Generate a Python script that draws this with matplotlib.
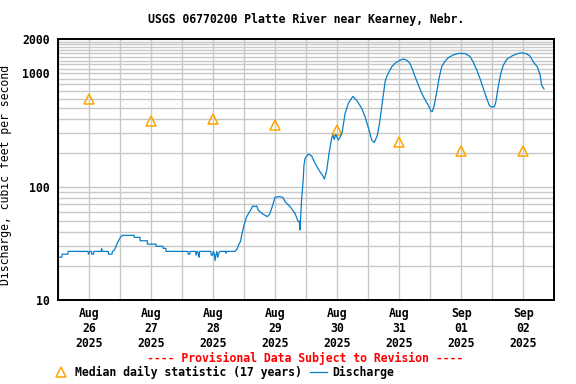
import matplotlib
matplotlib.use('Agg')
import matplotlib.pyplot as plt
import matplotlib.dates as mdates
from matplotlib.ticker import FixedLocator, FixedFormatter, NullFormatter
import pandas as pd

# discharge, hours after 2025-08-26 00:00 and cubic feet per second
hours = [0, 1.4, 1.5, 3.7, 3.8, 11.5, 11.7, 12.2, 12.9, 13.0, 13.6, 13.8, 16.6, 16.8, 17.0,
         19.3, 19.5, 20.8, 20.9, 21.7, 22.3, 22.8, 23.5, 24.2, 24.9, 29.3, 29.4, 31.6, 31.7,
         34.4, 34.5, 37.8, 37.9, 40.5, 40.6, 41.6, 41.7,
         50.2, 50.3, 50.9, 51.0, 53.2, 53.3, 53.8, 54.2, 54.5, 54.7, 59.0, 59.2, 59.7, 60.0,
         60.4, 60.7, 61.0, 61.4, 61.7, 62.0, 62.5, 64.8, 64.9, 65.1, 68.4, 69.3, 69.7, 70.5,
         71.0, 71.9, 72.9, 74.6, 75.3, 76.0, 76.8, 77.4, 78.7, 80.9, 81.7, 82.6, 83.9, 85.5,
         86.9, 87.8, 89.7, 91.6, 92.9, 93.3, 93.5, 93.7, 94.2, 94.8, 95.1, 95.5, 96.8, 98.1,
         99.4, 101.3, 102.6, 103.0, 103.9, 104.8, 105.8, 106.3, 106.8, 107.4, 108.4, 109.1,
         109.9, 111.0, 112.3, 114.0, 115.5, 117.4, 118.7, 120.3, 121.3, 122.3, 123.5, 124.3,
         125.2, 125.8, 126.5, 127.1, 128.4, 129.1, 130.3, 132.3, 133.6, 134.9, 136.1, 137.2,
         138.1, 139.4, 140.7, 142.0, 143.2, 144.2, 144.7, 145.4, 146.5, 147.4, 148.4, 149.7,
         151.0, 152.9, 154.8, 157.4, 159.4, 160.6, 162.0, 163.2, 164.5, 165.8, 166.8, 167.5,
         168.8, 169.4, 170.3, 171.3, 172.3, 173.6, 175.5, 177.5, 179.4, 181.3, 182.6, 183.9,
         185.4, 186.5, 187.1, 188.0]
cfs = [24, 24, 25.5, 25.5, 27, 27, 25.5, 27, 27, 25.5, 25.5, 27, 27, 28.5, 27,
       27, 25.5, 25.5, 26.8, 27.7, 29.7, 31.8, 34, 36.4, 37.4, 37.4, 35.9, 35.9, 33.5,
       33.5, 31.3, 31.3, 29.9, 29.9, 28.7, 28.7, 27,
       27, 25.5, 25.5, 27, 27, 25, 27, 26, 24, 27, 27, 25, 25, 27,
       25.5, 22.4, 25, 27, 24, 25.5, 27, 27, 26, 27, 27, 28.5, 30.4, 33,
       37.6, 46, 54.5, 63.4, 68, 67, 68, 62.5, 58.5, 54.6, 57, 64.5, 81, 82,
       81, 74, 67, 58.5, 49.3, 50, 41.6, 48, 79, 115, 155, 178, 195, 187,
       161, 136, 123, 117, 140, 197, 268, 285, 262, 290, 259, 275,
       305, 444, 546, 628, 580, 495, 418, 317, 259, 246, 284, 358,
       509, 641, 844, 936, 1072, 1146, 1226, 1310, 1340, 1310, 1226, 1072,
       936, 790, 667, 585, 526, 468, 460, 509, 690, 906, 1146, 1280,
       1380, 1456, 1500, 1500, 1410, 1260, 1072, 906, 742, 605, 526, 508,
       508, 565, 766, 1005, 1185, 1333, 1422, 1490, 1520, 1490, 1422, 1260,
       1146, 973, 790, 730]

# median daily statistic, one per day
median_days = ['2025-08-26', '2025-08-27', '2025-08-28', '2025-08-29',
               '2025-08-30', '2025-08-31', '2025-09-01', '2025-09-02']
median_cfs = [592, 378, 394, 349, 315, 248, 209, 209]

y_labels = [10, 100, 1000, 2000]

plt.rcParams['font.family'] = ['DejaVu Sans Mono']
plt.rcParams['font.weight'] = 'bold'
plt.rcParams['font.size'] = 8.3

start = pd.Timestamp('2025-08-26')
t = start + pd.to_timedelta(hours, unit='h')
tm = pd.to_datetime(median_days) + pd.Timedelta(hours=12)

fig = plt.figure(figsize=(5.76, 3.84), dpi=100)
ax = fig.add_axes([58.3 / 576, 1 - 300.3 / 384, 496 / 576, 261 / 384])
ax.set_axisbelow(True)

ax.plot(tm, median_cfs, linestyle='none', marker='^', markersize=7.5,
        markerfacecolor='none', markeredgecolor='#ffa500', markeredgewidth=1.1,
        label='Median daily statistic (17 years)')
ax.plot(t, cfs, color='#0a7ec8', linewidth=0.9, label='Discharge')

ax.set_yscale('log')
ax.set_ylim(10, 2000)
ax.set_xlim(start, start + pd.Timedelta(days=8))

minor_y = list(range(20, 100, 10)) + list(range(200, 1000, 100)) + list(range(1100, 2000, 100))
ax.yaxis.set_major_locator(FixedLocator(y_labels))
ax.yaxis.set_major_formatter(FixedFormatter([str(v) for v in y_labels]))
ax.yaxis.set_minor_locator(FixedLocator(minor_y))
ax.yaxis.set_minor_formatter(NullFormatter())

ax.xaxis.set_major_locator(mdates.DayLocator())
ax.xaxis.set_major_formatter(NullFormatter())
ax.xaxis.set_minor_locator(mdates.HourLocator(byhour=[12]))
ax.xaxis.set_minor_formatter(mdates.DateFormatter('%b\n%d\n%Y'))

ax.tick_params(axis='both', which='both', length=0)
ax.tick_params(axis='y', pad=6)
ax.tick_params(axis='x', which='minor', pad=4.5)
ax.grid(True, which='both', color='#c8c8c8', linewidth=1.0)

for s in ax.spines.values():
    s.set_linewidth(1.4)
    s.set_color('black')

ax.set_ylabel('Discharge, cubic feet per second')
ax.yaxis.set_label_coords((12 - 58.3) / 496, 0.48)
fig.text(306 / 576, 1 - 19 / 384, 'USGS 06770200 Platte River near Kearney, Nebr.',
         ha='center', va='center')
fig.text(305.5 / 576, 1 - 358 / 384, '---- Provisional Data Subject to Revision ----',
         ha='center', va='center', color='red')

fig.legend(loc='center left', bbox_to_anchor=(52 / 576, 1 - 372 / 384), ncol=2,
           frameon=False, borderpad=0, borderaxespad=0, handlelength=1.53,
           handletextpad=0.45, columnspacing=0.7)

fig.savefig('out.png', dpi=100)
